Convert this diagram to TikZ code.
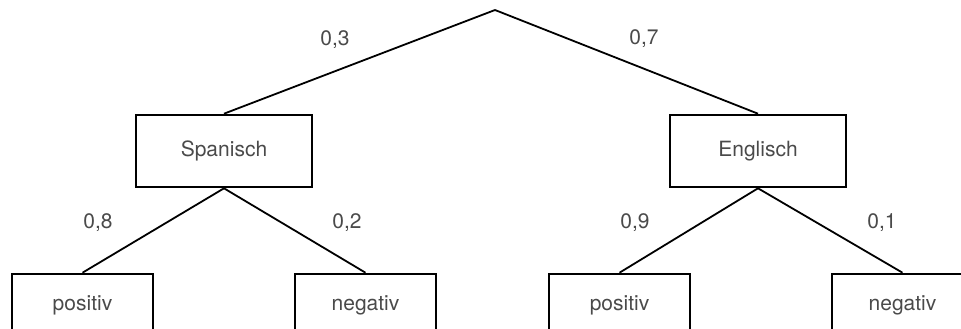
\documentclass[tikz,border=0pt]{standalone}
\usepackage{fontspec}
\setmainfont{TeX Gyre Heros}
\definecolor{txtgray}{HTML}{4A4A4A}
\begin{document}
\begin{tikzpicture}[x=1pt,y=-1pt,
  box/.style={draw=black,line width=2.6pt,rectangle,inner sep=0pt,
    text=txtgray,font=\fontsize{21}{24}\selectfont},
  topbox/.style={box,minimum width=176pt,minimum height=72pt},
  leafbox/.style={box,minimum width=141pt,minimum height=62pt},
  edge/.style={draw=black,line width=1.8pt},
  prob/.style={text=txtgray,font=\fontsize{21}{24}\selectfont,inner sep=0pt}]
\useasboundingbox (0,0) rectangle (961,329);
\coordinate (root) at (495,10);
\node[topbox] (sp) at (224,151) {Spanisch};
\node[topbox] (en) at (758,151) {Englisch};
\node[leafbox] (sp1) at (82.5,305) {positiv};
\node[leafbox] (sp2) at (365.5,305) {negativ};
\node[leafbox] (en1) at (619.5,305) {positiv};
\node[leafbox] (en2) at (902.5,305) {negativ};
\draw[edge] (root) -- (sp.north);
\draw[edge] (root) -- (en.north);
\draw[edge] (sp.south) -- (sp1.north);
\draw[edge] (sp.south) -- (sp2.north);
\draw[edge] (en.south) -- (en1.north);
\draw[edge] (en.south) -- (en2.north);
\node[prob] (p03) at (335,40) {0,3};
\node[prob] (p07) at (644,39) {0,7};
\node[prob] (p08) at (98,223) {0,8};
\node[prob] (p02) at (347,223) {0,2};
\node[prob] (p09) at (635,223) {0,9};
\node[prob] (p01) at (882,223) {0,1};
\end{tikzpicture}
\end{document}
